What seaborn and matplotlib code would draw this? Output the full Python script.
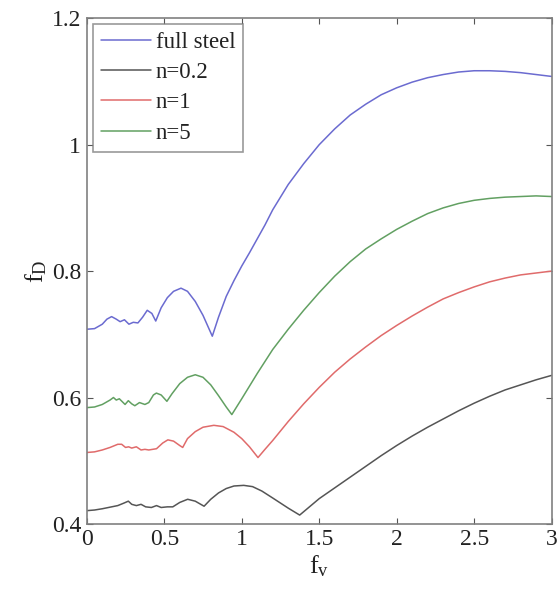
import numpy as np
import pandas as pd
import matplotlib
matplotlib.use("Agg")
import matplotlib.pyplot as plt
import seaborn as sns

# ---- data ----
series_names = ["full steel", "n=0.2", "n=1", "n=5"]

x_full = [0.0, 0.05, 0.1, 0.13, 0.16, 0.19, 0.215, 0.243, 0.272, 0.30, 0.33, 0.36, 0.39, 0.42, 0.445,
          0.48, 0.52, 0.56, 0.608, 0.65, 0.7, 0.75, 0.81, 0.85, 0.9, 0.95, 1.0, 1.05, 1.1, 1.15, 1.2,
          1.3, 1.4, 1.5, 1.6, 1.7, 1.8, 1.9, 2.0, 2.1, 2.2, 2.3, 2.4, 2.5, 2.6, 2.7, 2.8, 2.9, 3.0]
y_full = [0.708, 0.709, 0.716, 0.724, 0.728, 0.724, 0.720, 0.723, 0.716, 0.719, 0.718, 0.727, 0.738, 0.733, 0.721,
          0.742, 0.758, 0.768, 0.773, 0.768, 0.752, 0.730, 0.697, 0.727, 0.760, 0.785, 0.808, 0.829, 0.851, 0.873, 0.897,
          0.937, 0.970, 1.000, 1.025, 1.047, 1.064, 1.079, 1.090, 1.099, 1.106, 1.111, 1.115, 1.117, 1.117, 1.116, 1.114, 1.111, 1.108]

x_n02 = [0.0, 0.05, 0.1, 0.16, 0.2, 0.24, 0.268, 0.29, 0.32, 0.35, 0.38, 0.417, 0.45, 0.48, 0.52, 0.555,
         0.6, 0.651, 0.7, 0.757, 0.8, 0.85, 0.9, 0.95, 1.013, 1.07, 1.13, 1.2, 1.25, 1.3, 1.374,
         1.5, 1.6, 1.7, 1.8, 1.9, 2.0, 2.1, 2.2, 2.3, 2.4, 2.5, 2.6, 2.7, 2.8, 2.9, 3.0]
y_n02 = [0.421, 0.422, 0.424, 0.427, 0.429, 0.433, 0.436, 0.431, 0.429, 0.431, 0.427, 0.426, 0.429, 0.426, 0.427, 0.427,
         0.434, 0.439, 0.436, 0.428, 0.439, 0.449, 0.456, 0.460, 0.461, 0.459, 0.452, 0.441, 0.433, 0.425, 0.414,
         0.440, 0.457, 0.474, 0.491, 0.508, 0.524, 0.539, 0.553, 0.566, 0.579, 0.591, 0.602, 0.612, 0.620, 0.628, 0.635]

x_n1 = [0.0, 0.05, 0.1, 0.15, 0.2, 0.225, 0.25, 0.27, 0.29, 0.32, 0.35, 0.375, 0.4, 0.45, 0.49, 0.523, 0.56,
        0.6, 0.619, 0.65, 0.7, 0.75, 0.82, 0.88, 0.95, 1.0, 1.05, 1.105, 1.15, 1.2, 1.3, 1.4, 1.5, 1.6,
        1.7, 1.8, 1.9, 2.0, 2.1, 2.2, 2.3, 2.4, 2.5, 2.6, 2.7, 2.8, 2.9, 3.0]
y_n1 = [0.513, 0.514, 0.517, 0.521, 0.526, 0.526, 0.521, 0.522, 0.520, 0.522, 0.517, 0.518, 0.517, 0.519, 0.528, 0.533, 0.531,
        0.524, 0.521, 0.535, 0.546, 0.553, 0.556, 0.554, 0.545, 0.535, 0.522, 0.505, 0.518, 0.532, 0.562, 0.590, 0.616, 0.640,
        0.661, 0.680, 0.698, 0.714, 0.729, 0.743, 0.756, 0.766, 0.775, 0.783, 0.789, 0.794, 0.797, 0.800]

x_n5 = [0.0, 0.05, 0.1, 0.15, 0.172, 0.19, 0.21, 0.247, 0.268, 0.29, 0.31, 0.34, 0.375, 0.40, 0.43, 0.449,
        0.48, 0.517, 0.55, 0.6, 0.65, 0.70, 0.75, 0.8, 0.85, 0.9, 0.936, 1.0, 1.1, 1.2, 1.3, 1.4, 1.5,
        1.6, 1.7, 1.8, 1.9, 2.0, 2.1, 2.2, 2.3, 2.4, 2.5, 2.6, 2.7, 2.8, 2.9, 3.0]
y_n5 = [0.584, 0.585, 0.589, 0.596, 0.600, 0.596, 0.598, 0.589, 0.595, 0.590, 0.587, 0.592, 0.589, 0.592, 0.604, 0.607,
        0.604, 0.594, 0.606, 0.622, 0.632, 0.636, 0.632, 0.620, 0.603, 0.585, 0.573, 0.598, 0.638, 0.676, 0.708, 0.738, 0.766,
        0.792, 0.815, 0.835, 0.851, 0.866, 0.879, 0.891, 0.900, 0.907, 0.912, 0.915, 0.917, 0.918, 0.919, 0.918]

x_ticks = [0, 0.5, 1, 1.5, 2, 2.5, 3]
y_ticks = [0.4, 0.6, 0.8, 1.0, 1.2]
y_tick_labels = ["0.4", "0.6", "0.8", "1", "1.2"]
x_tick_labels = ["0", "0.5", "1", "1.5", "2", "2.5", "3"]

colors = {"full steel": "#6b6bd0", "n=0.2": "#555555", "n=1": "#e06b6b", "n=5": "#62a062"}

frames = []
for name, xs, ys in [("full steel", x_full, y_full), ("n=0.2", x_n02, y_n02),
                     ("n=1", x_n1, y_n1), ("n=5", x_n5, y_n5)]:
    frames.append(pd.DataFrame({"fv": xs, "fD": ys, "series": name}))
df = pd.concat(frames, ignore_index=True)

sns.set_theme(style="white")
plt.rcParams["font.family"] = ["Liberation Serif", "DejaVu Serif"]
plt.rcParams["mathtext.fontset"] = "custom"
plt.rcParams["mathtext.rm"] = "Liberation Serif"
plt.rcParams["mathtext.it"] = "Liberation Serif"

fig = plt.figure(figsize=(5.6, 5.9), dpi=100)
ax = fig.add_axes([0.155, 0.112, 0.83, 0.857])

sns.lineplot(data=df, x="fv", y="fD", hue="series", hue_order=series_names,
             palette=colors, sort=False, estimator=None, linewidth=1.1, ax=ax)

ax.set_xlim(0, 3)
ax.set_ylim(0.4, 1.2)
ax.set_xticks(x_ticks)
ax.set_xticklabels(x_tick_labels)
ax.set_yticks(y_ticks)
ax.set_yticklabels(y_tick_labels)
ax.tick_params(direction="in", length=4, width=0.8, color="#555555", labelsize=17,
               top=True, right=True, bottom=True, left=True, pad=4, labelcolor="#222222")
for s in ax.spines.values():
    s.set_color("#808080")
    s.set_linewidth(1.2)

ax.set_xlabel(r"$\mathrm{f_v}$", fontsize=19, labelpad=2, color="#222222")
ax.set_ylabel(r"$\mathrm{f_D}$", fontsize=19, labelpad=2, color="#222222")

leg = ax.legend(loc="upper left", fontsize=16.5, frameon=True, fancybox=False,
                borderaxespad=0.25, handlelength=2.2, handletextpad=0.2,
                labelspacing=0.4, borderpad=0.35)
leg.get_frame().set_edgecolor("#808080")
leg.get_frame().set_linewidth(1.2)
for t in leg.get_texts():
    t.set_color("#222222")

fig.savefig("out.png", dpi=100, facecolor="white")
